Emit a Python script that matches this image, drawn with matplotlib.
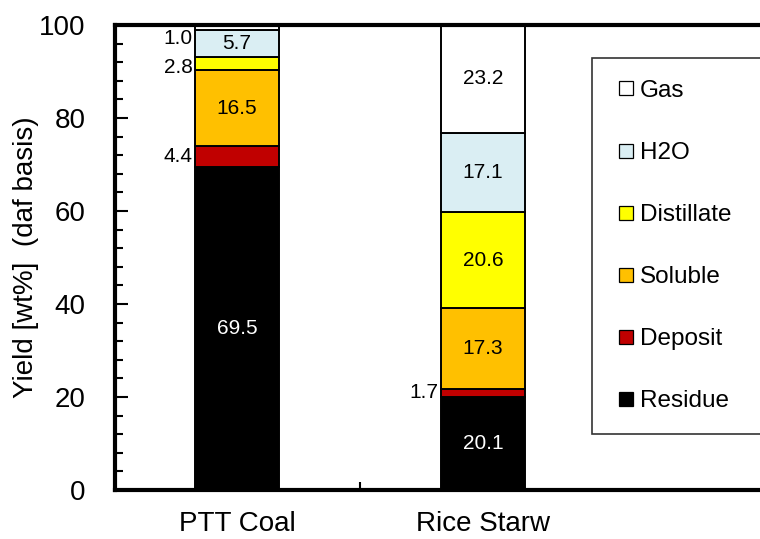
import matplotlib.pyplot as plt
from matplotlib.lines import Line2D
import numpy as np

plt.rcParams['font.family'] = ['Liberation Sans', 'DejaVu Sans']

samples = ['PTT Coal', 'Rice Starw']
components = ['Residue', 'Deposit', 'Soluble', 'Distillate', 'H2O', 'Gas']
colors = ['#000000', '#C00000', '#FFC000', '#FFFF00', '#DAEEF3', '#FFFFFF']

residue = [69.5, 20.1]
deposit = [4.4, 1.7]
soluble = [16.5, 17.3]
distillate = [2.8, 20.6]
h2o = [5.7, 17.1]
gas = [1.0, 23.2]

series = [residue, deposit, soluble, distillate, h2o, gas]

# small labels that sit beside the bar get nudged down a bit (data units)
nudge = {(0, 'Gas'): -2.4, (0, 'Distillate'): -1.0}

fig = plt.figure(figsize=(7.6, 5.39), dpi=100)
ax = fig.add_axes([115 / 760, 49 / 539, 645 / 760, 465 / 539])

x = np.array([1.0, 2.0])
width = 0.345
bottom = np.zeros(2)
for name, vals, col in zip(components, series, colors):
    vals = np.array(vals)
    ax.bar(x, vals, width, bottom=bottom, color=col, edgecolor='black',
           linewidth=1.4, label=name)
    for i, v in enumerate(vals):
        yy = bottom[i] + v / 2 + nudge.get((i, name), 0)
        if v < 4.5:
            ax.text(x[i] - width / 2 - 0.008, yy, f'{v:.1f}',
                    ha='right', va='center', fontsize=15)
        else:
            tc = 'white' if col == '#000000' else 'black'
            ax.text(x[i], yy, f'{v:.1f}', ha='center', va='center',
                    fontsize=15, color=tc)
    bottom += vals

ax.set_xlim(0.504, 3.126)
ax.set_ylim(0, 100)
ax.set_xticks(x)
ax.set_xticklabels(samples, fontsize=20)
ax.set_xticks([1.5], minor=True)
ax.tick_params(axis='x', which='major', length=0, pad=15)
ax.tick_params(axis='x', which='minor', direction='in', length=6, width=1.5)
ax.set_yticks(np.arange(0, 101, 20))
ax.set_yticks(np.arange(0, 101, 4), minor=True)
ax.tick_params(axis='y', which='major', direction='in', length=9, width=1.5,
               labelsize=20, pad=21)
ax.tick_params(axis='y', which='minor', direction='in', length=6, width=1.5)
ax.set_ylabel('Yield [wt%]  (daf basis)', fontsize=20, labelpad=0.5)

for s in ['left', 'bottom', 'top']:
    ax.spines[s].set_linewidth(3)
ax.spines['right'].set_visible(False)

handles = [Line2D([], [], ls='none', marker='s', markersize=10, markerfacecolor=c,
                  markeredgecolor='black', markeredgewidth=0.9)
           for c in colors[::-1]]
leg = ax.legend(handles, components[::-1], loc='upper left', mode='expand',
                bbox_to_anchor=(592 / 760, 106 / 539, 200 / 760, 375 / 539),
                bbox_transform=fig.transFigure,
                fontsize=17.5, frameon=True, fancybox=False, edgecolor='black',
                handlelength=1.0, handletextpad=0.07,
                labelspacing=1.65, borderpad=0.9, borderaxespad=0)
leg.get_frame().set_linewidth(1.2)

plt.savefig('out.png', dpi=100)
